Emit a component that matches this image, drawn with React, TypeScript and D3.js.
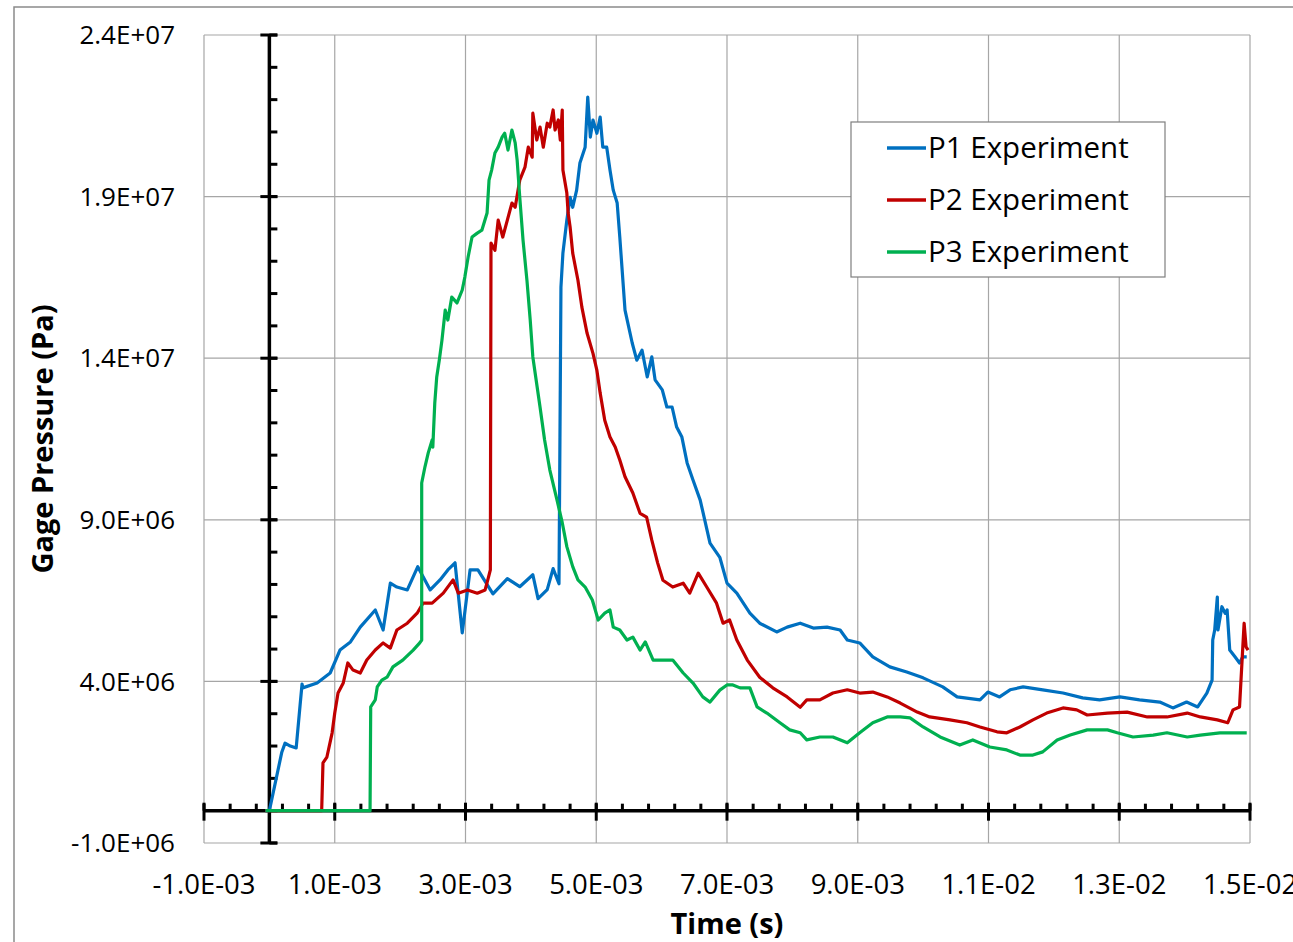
import React from "react";
import * as d3 from "d3";

// Time in milliseconds, pressure in MPa (converted to s and Pa for the scales)
const p1Time = [-0.06, 0.0, 0.19, 0.24, 0.32, 0.41, 0.47, 0.5, 0.51, 0.73, 0.93, 1.08, 1.24, 1.39, 1.62, 1.74, 1.85, 1.95, 2.11, 2.27, 2.46, 2.61, 2.73, 2.84, 2.95, 3.07, 3.19, 3.42, 3.64, 3.83, 4.03, 4.11, 4.25, 4.34, 4.43, 4.46, 4.49, 4.55, 4.6, 4.64, 4.7, 4.75, 4.83, 4.87, 4.91, 4.95, 5.01, 5.06, 5.1, 5.16, 5.21, 5.26, 5.32, 5.36, 5.44, 5.55, 5.62, 5.7, 5.78, 5.85, 5.9, 6.01, 6.08, 6.16, 6.23, 6.31, 6.39, 6.48, 6.59, 6.66, 6.74, 6.89, 7.0, 7.15, 7.35, 7.5, 7.76, 7.92, 8.12, 8.32, 8.53, 8.73, 8.84, 9.03, 9.23, 9.49, 9.75, 10.0, 10.3, 10.52, 10.87, 10.99, 11.17, 11.33, 11.53, 11.83, 12.14, 12.44, 12.7, 13.01, 13.31, 13.62, 13.82, 14.03, 14.2, 14.34, 14.42, 14.43, 14.46, 14.5, 14.51, 14.57, 14.62, 14.65, 14.69, 14.77, 14.84, 14.89, 14.95];
const p1Pressure = [0, 0, 1.81, 2.09, 2.0, 1.94, 3.27, 3.92, 3.8, 3.95, 4.26, 4.97, 5.22, 5.68, 6.21, 5.59, 7.04, 6.92, 6.83, 7.55, 6.83, 7.14, 7.45, 7.67, 5.5, 7.45, 7.45, 6.71, 7.18, 6.93, 7.3, 6.56, 6.84, 7.49, 7.02, 16.2, 17.25, 18.27, 18.98, 18.67, 19.2, 20.04, 20.53, 22.08, 20.84, 21.37, 20.96, 21.46, 20.53, 20.53, 19.82, 19.2, 18.8, 17.75, 15.49, 14.47, 13.94, 14.25, 13.42, 14.04, 13.33, 13.02, 12.49, 12.49, 11.87, 11.56, 10.76, 10.23, 9.61, 8.99, 8.28, 7.84, 7.04, 6.73, 6.11, 5.8, 5.53, 5.68, 5.8, 5.65, 5.68, 5.59, 5.28, 5.19, 4.76, 4.45, 4.29, 4.11, 3.83, 3.52, 3.43, 3.67, 3.52, 3.74, 3.83, 3.74, 3.64, 3.49, 3.43, 3.52, 3.43, 3.36, 3.18, 3.36, 3.21, 3.64, 4.04, 5.28, 5.59, 6.61, 5.59, 6.31, 6.11, 6.21, 4.97, 4.76, 4.57, 4.76, 4.76];

const p2Time = [-0.06, 0.8, 0.82, 0.88, 0.96, 1.0, 1.05, 1.13, 1.2, 1.28, 1.39, 1.49, 1.62, 1.74, 1.85, 1.95, 2.11, 2.26, 2.35, 2.49, 2.66, 2.81, 2.89, 3.03, 3.18, 3.3, 3.35, 3.38, 3.39, 3.45, 3.5, 3.57, 3.64, 3.71, 3.76, 3.83, 3.91, 3.96, 4.02, 4.03, 4.09, 4.14, 4.19, 4.25, 4.29, 4.34, 4.37, 4.42, 4.45, 4.48, 4.49, 4.55, 4.57, 4.6, 4.64, 4.72, 4.78, 4.86, 4.95, 5.01, 5.06, 5.13, 5.21, 5.29, 5.36, 5.44, 5.56, 5.67, 5.77, 5.85, 5.94, 6.02, 6.17, 6.33, 6.43, 6.56, 6.69, 6.84, 6.94, 7.04, 7.15, 7.31, 7.5, 7.7, 7.92, 8.12, 8.22, 8.42, 8.62, 8.84, 9.03, 9.23, 9.45, 9.65, 9.91, 10.1, 10.41, 10.67, 10.87, 11.13, 11.28, 11.48, 11.68, 11.89, 12.14, 12.35, 12.51, 12.82, 13.12, 13.43, 13.73, 14.04, 14.24, 14.5, 14.66, 14.74, 14.84, 14.89, 14.91, 14.94, 14.97];
const p2Pressure = [0, 0, 1.48, 1.66, 2.41, 3.02, 3.64, 3.95, 4.57, 4.35, 4.26, 4.66, 4.97, 5.19, 5.03, 5.59, 5.8, 6.11, 6.42, 6.42, 6.73, 7.14, 6.73, 6.83, 6.73, 6.83, 7.21, 7.45, 17.56, 17.34, 18.27, 17.75, 18.27, 18.8, 18.67, 19.51, 19.91, 20.53, 20.22, 21.58, 20.75, 21.15, 20.53, 21.27, 21.15, 21.68, 21.06, 21.37, 20.75, 21.68, 19.82, 19.11, 18.49, 18.06, 17.25, 16.41, 15.58, 14.77, 14.15, 13.62, 12.92, 12.08, 11.56, 11.25, 10.85, 10.33, 9.83, 9.2, 9.08, 8.37, 7.66, 7.13, 6.92, 7.04, 6.73, 7.35, 6.92, 6.42, 5.8, 5.9, 5.28, 4.66, 4.13, 3.8, 3.52, 3.2, 3.43, 3.43, 3.64, 3.74, 3.64, 3.67, 3.52, 3.33, 3.05, 2.9, 2.81, 2.72, 2.59, 2.44, 2.41, 2.59, 2.81, 3.02, 3.18, 3.12, 2.96, 3.02, 3.05, 2.9, 2.9, 3.02, 2.9, 2.81, 2.72, 3.12, 3.21, 5.07, 5.8, 5.07, 4.97];

const p3Time = [-0.06, 1.54, 1.55, 1.62, 1.65, 1.72, 1.8, 1.89, 2.04, 2.2, 2.3, 2.33, 2.33, 2.38, 2.43, 2.49, 2.5, 2.53, 2.56, 2.6, 2.64, 2.69, 2.73, 2.79, 2.87, 2.95, 2.99, 3.04, 3.1, 3.18, 3.25, 3.33, 3.36, 3.4, 3.45, 3.5, 3.56, 3.6, 3.65, 3.71, 3.76, 3.79, 3.83, 3.88, 3.94, 3.99, 4.03, 4.14, 4.21, 4.29, 4.4, 4.48, 4.55, 4.64, 4.72, 4.83, 4.94, 5.03, 5.13, 5.21, 5.26, 5.36, 5.47, 5.56, 5.67, 5.75, 5.87, 6.02, 6.17, 6.33, 6.48, 6.63, 6.74, 6.89, 7.0, 7.09, 7.2, 7.35, 7.46, 7.61, 7.81, 7.96, 8.12, 8.22, 8.42, 8.62, 8.84, 9.03, 9.23, 9.45, 9.65, 9.8, 10.0, 10.26, 10.56, 10.76, 11.02, 11.28, 11.48, 11.68, 11.83, 12.05, 12.25, 12.51, 12.82, 12.97, 13.21, 13.52, 13.73, 14.04, 14.24, 14.54, 14.95];
const p3Pressure = [0, 0, 3.21, 3.43, 3.83, 4.04, 4.13, 4.45, 4.66, 4.97, 5.19, 5.28, 10.14, 10.64, 11.07, 11.47, 11.25, 12.61, 13.42, 13.95, 14.56, 15.49, 15.18, 15.89, 15.71, 16.11, 16.51, 17.13, 17.75, 17.87, 17.96, 18.49, 19.51, 19.82, 20.35, 20.53, 20.84, 20.96, 20.44, 21.06, 20.66, 20.13, 18.98, 17.65, 16.41, 15.18, 14.04, 12.49, 11.47, 10.54, 9.61, 8.91, 8.17, 7.55, 7.14, 6.92, 6.52, 5.9, 6.11, 6.21, 5.68, 5.59, 5.28, 5.37, 4.97, 5.22, 4.66, 4.66, 4.66, 4.26, 3.95, 3.52, 3.36, 3.73, 3.89, 3.89, 3.8, 3.8, 3.21, 3.02, 2.72, 2.5, 2.41, 2.19, 2.28, 2.28, 2.1, 2.41, 2.72, 2.9, 2.9, 2.87, 2.59, 2.28, 2.03, 2.19, 1.97, 1.88, 1.72, 1.72, 1.82, 2.19, 2.34, 2.5, 2.5, 2.41, 2.28, 2.34, 2.41, 2.28, 2.34, 2.41, 2.41];

const seriesNames = ["P1 Experiment", "P2 Experiment", "P3 Experiment"];
const seriesColors = ["#0070C0", "#C00000", "#00B050"];
const xTickValues = [-1e-3, 1e-3, 3e-3, 5e-3, 7e-3, 9e-3, 11e-3, 13e-3, 15e-3];
const yTickValues = [-1e6, 4e6, 9e6, 14e6, 19e6, 24e6];
const xMinorStep = 0.4e-3;
const yMinorStep = 1e6;

const W = 1293;
const H = 942;
const M = { left: 204, right: 1250, top: 35, bottom: 843 };

function fmtE(v: number): string {
  const s = v.toExponential(1);
  const [m, e] = s.split("e");
  const n = parseInt(e, 10);
  const sign = n < 0 ? "-" : "+";
  return m + "E" + sign + String(Math.abs(n)).padStart(2, "0");
}

export default function App() {
  const x = d3.scaleLinear().domain([-1e-3, 15e-3]).range([M.left, M.right]);
  const y = d3.scaleLinear().domain([-1e6, 24e6]).range([M.bottom, M.top]);
  const x0 = x(0);
  const y0 = y(0);

  const series = [
    { t: p1Time, p: p1Pressure },
    { t: p2Time, p: p2Pressure },
    { t: p3Time, p: p3Pressure },
  ].map((s) => s.t.map((t, i) => [t * 1e-3, s.p[i] * 1e6] as [number, number]));

  const line = d3
    .line<[number, number]>()
    .x((d) => x(d[0]))
    .y((d) => y(d[1]));

  const xMinor: number[] = [];
  for (let v = -1e-3; v <= 15e-3 + 1e-9; v += xMinorStep) xMinor.push(v);
  const yMinor: number[] = [];
  for (let v = -1e6; v <= 24e6 + 1; v += yMinorStep) yMinor.push(v);

  const font = "'Open Sans', 'Noto Sans', sans-serif";

  return (
    <svg
      width={W}
      height={H}
      style={{ position: "absolute", left: 0, top: 0, background: "#fff" }}
      fontFamily={font}
    >
      <rect x={0} y={0} width={W} height={H} fill="#fff" />
      <rect x={14} y={7} width={1400} height={1100} fill="none" stroke="#8a8a8a" strokeWidth={1.5} />
      {/* gridlines */}
      {xTickValues.map((v) => (
        <line key={"gx" + v} x1={x(v)} x2={x(v)} y1={M.top} y2={M.bottom} stroke="#a6a6a6" strokeWidth={1.2} />
      ))}
      {yTickValues.map((v) => (
        <line key={"gy" + v} x1={M.left} x2={M.right} y1={y(v)} y2={y(v)} stroke="#a6a6a6" strokeWidth={1.2} />
      ))}
      {/* y axis minor ticks */}
      {yMinor.map((v, i) => (
        <line key={"ym" + i} x1={x0} x2={x0 + 8} y1={y(v)} y2={y(v)} stroke="#000" strokeWidth={3} />
      ))}
      {yTickValues.map((v) => (
        <line key={"yM" + v} x1={x0 - 9} x2={x0 + 8} y1={y(v)} y2={y(v)} stroke="#000" strokeWidth={3} />
      ))}
      {/* x axis minor ticks */}
      {xMinor.map((v, i) => (
        <line key={"xm" + i} x1={x(v)} x2={x(v)} y1={y0 - 7} y2={y0} stroke="#000" strokeWidth={3} />
      ))}
      {xTickValues.map((v) => (
        <line key={"xM" + v} x1={x(v)} x2={x(v)} y1={y0 - 8} y2={y0 + 10} stroke="#000" strokeWidth={3} />
      ))}
      {/* axis lines */}
      <line x1={x0} x2={x0} y1={M.top} y2={M.bottom} stroke="#000" strokeWidth={3.5} />
      <line x1={M.left} x2={M.right} y1={y0} y2={y0} stroke="#000" strokeWidth={3.5} />
      {/* tick labels */}
      {yTickValues.map((v) => (
        <text key={"yl" + v} x={175} y={y(v)} dy="0.35em" textAnchor="end" fontSize={26} fill="#000">
          {fmtE(v)}
        </text>
      ))}
      {xTickValues.map((v) => (
        <text key={"xl" + v} x={x(v)} y={884} dy="0.35em" textAnchor="middle" fontSize={27.5} fill="#000">
          {fmtE(v)}
        </text>
      ))}
      {/* axis titles */}
      <text x={727} y={924} dy="0.35em" textAnchor="middle" fontSize={29} fontWeight="bold" fill="#000">
        Time (s)
      </text>
      <text
        transform={`translate(43,439) rotate(-90)`}
        dy="0.35em"
        textAnchor="middle"
        fontSize={29}
        fontWeight="bold"
        fill="#000"
      >
        Gage Pressure (Pa)
      </text>
      {/* series */}
      {series.map((s, i) => (
        <path
          key={"s" + i}
          d={line(s) || ""}
          fill="none"
          stroke={seriesColors[i]}
          strokeWidth={3.2}
          strokeLinejoin="round"
        />
      ))}
      {/* legend */}
      <rect x={851} y={122} width={314} height={155} fill="#fff" stroke="#7f7f7f" strokeWidth={1.2} />
      {seriesNames.map((n, i) => (
        <g key={"lg" + i}>
          <line x1={887} x2={926} y1={148 + i * 52} y2={148 + i * 52} stroke={seriesColors[i]} strokeWidth={3.5} />
          <text x={928} y={148 + i * 52} dy="0.35em" fontSize={29.5} fill="#000">
            {n}
          </text>
        </g>
      ))}
    </svg>
  );
}
